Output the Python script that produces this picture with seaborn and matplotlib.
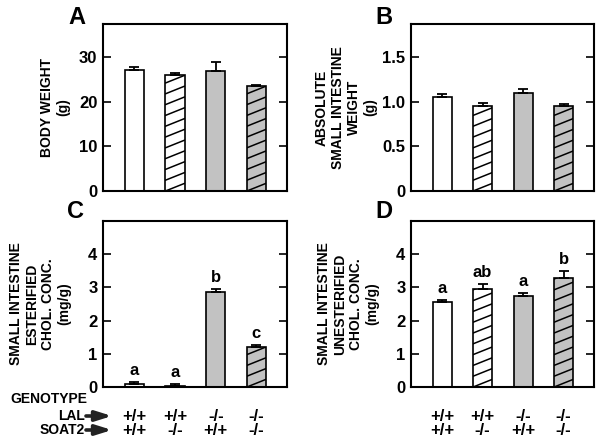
import numpy as np
import pandas as pd
import matplotlib.pyplot as plt
import matplotlib.transforms as mtransforms
from matplotlib.lines import Line2D
import seaborn as sns

# genotype of the four groups
lal = ['+/+', '+/+', '-/-', '-/-']
soat2 = ['+/+', '-/-', '+/+', '-/-']
groups = [f'LAL {a} / SOAT2 {b}' for a, b in zip(lal, soat2)]

# panel values (mean, SEM)
body_weight = [27.2, 26.0, 26.9, 23.5]
body_weight_sem = [0.7, 0.6, 2.0, 0.4]
si_weight = [1.05, 0.95, 1.10, 0.95]
si_weight_sem = [0.04, 0.04, 0.04, 0.03]
esterified = [0.08, 0.03, 2.86, 1.19]
esterified_sem = [0.07, 0.06, 0.09, 0.08]
unesterified = [2.56, 2.95, 2.75, 3.29]
unesterified_sem = [0.06, 0.15, 0.08, 0.19]
esterified_letters = ['a', 'a', 'b', 'c']
unesterified_letters = ['a', 'ab', 'a', 'b']

fills = ['white', 'white', '#c2c2c2', '#c2c2c2']
hatched = [False, True, False, True]

sns.set_theme(style='white')
plt.rcParams['font.family'] = ['Liberation Sans', 'DejaVu Sans']
plt.rcParams['font.weight'] = 'bold'
plt.rcParams['text.color'] = 'black'
plt.rcParams['axes.labelcolor'] = 'black'
plt.rcParams['xtick.color'] = 'black'
plt.rcParams['ytick.color'] = 'black'

W, H = 603, 445
fig = plt.figure(figsize=(W / 100, H / 100), dpi=100)


def px_axes(left, top, right, bottom):
    return fig.add_axes([left / W, 1 - bottom / H, (right - left) / W, (bottom - top) / H])


def add_hatch(ax, patch, spacing=10.8, slope=0.4):
    # shallow diagonal lines, clipped to the bar
    (x0, y0), (x1, y1) = ax.transData.transform(
        [(patch.get_x(), patch.get_y()),
         (patch.get_x() + patch.get_width(), patch.get_y() + patch.get_height())])
    w, h = x1 - x0, y1 - y0
    k0 = -int(np.ceil(slope * w / spacing)) - 1
    k1 = int(np.ceil(h / spacing)) + 1
    for k in range(k0, k1):
        ys = [y0 + k * spacing, y0 + k * spacing + slope * w]
        ln = Line2D([x0, x1], ys, transform=mtransforms.IdentityTransform(),
                    color='black', lw=1.1, zorder=patch.get_zorder() + 0.1)
        ln.set_clip_path(patch)
        fig.add_artist(ln)


def draw_panel(ax, values, sem, ymax, yticks, yticklabels, ylabel, label_x, letters=None):
    df = pd.DataFrame({'group': groups, 'value': values})
    sns.barplot(data=df, x='group', y='value', ax=ax, color='white', saturation=1,
                edgecolor='black', linewidth=1.2, width=0.47, errorbar=None)
    x = np.arange(len(values))
    ax.errorbar(x, values, yerr=[np.zeros(len(sem)), sem], fmt='none', ecolor='black',
                elinewidth=1.3, capsize=3.5, capthick=1.3)
    if letters is not None:
        for xi, v, e, t in zip(x, values, sem, letters):
            ax.annotate(t, (xi, v + e), xytext=(0, 3), textcoords='offset points',
                        ha='center', va='bottom', fontsize=12, fontweight='bold')
    ax.set_xlim(-0.77, 3.75)
    ax.set_ylim(0, ymax)
    ax.set_yticks(yticks)
    ax.set_yticklabels(yticklabels, fontsize=12, fontweight='bold')
    ax.set_xticks([])
    ax.set_xlabel('')
    ax.set_ylabel('')
    ax.tick_params(axis='y', direction='in', length=6, width=1.2, left=True, right=True,
                   labelleft=True, labelright=False, pad=4, colors='black')
    for s in ax.spines.values():
        s.set_linewidth(1.5)
        s.set_color('black')
    ax.text(label_x, 0.5, ylabel, transform=ax.transAxes, rotation=90, ha='center',
            va='center', multialignment='center', fontsize=10, fontweight='bold',
            linespacing=1.2)
    for patch, fc, hh in zip(ax.patches, fills, hatched):
        patch.set_facecolor(fc)
        if hh:
            add_hatch(ax, patch)


ax_a = px_axes(103, 24, 287, 191)
ax_b = px_axes(411, 24, 594, 191)
ax_c = px_axes(103, 221, 287, 387)
ax_d = px_axes(411, 221, 594, 387)

draw_panel(ax_a, body_weight, body_weight_sem, 37.5, [0, 10, 20, 30],
           ['0', '10', '20', '30'], 'BODY WEIGHT\n(g)', -0.261)
draw_panel(ax_b, si_weight, si_weight_sem, 1.875, [0, 0.5, 1.0, 1.5],
           ['0', '0.5', '1.0', '1.5'], 'ABSOLUTE\nSMALL INTESTINE\nWEIGHT\n(g)', -0.355)
draw_panel(ax_c, esterified, esterified_sem, 5, [0, 1, 2, 3, 4],
           ['0', '1', '2', '3', '4'],
           'SMALL INTESTINE\nESTERIFIED\nCHOL. CONC.\n(mg/g)', -0.342, esterified_letters)
draw_panel(ax_d, unesterified, unesterified_sem, 5, [0, 1, 2, 3, 4],
           ['0', '1', '2', '3', '4'],
           'SMALL INTESTINE\nUNESTERIFIED\nCHOL. CONC.\n(mg/g)', -0.344, unesterified_letters)

# panel letters
for t, (px, py) in zip('ABCD', [(76.5, 17.5), (383.5, 17.5), (76, 212), (384, 212)]):
    fig.text(px / W, 1 - py / H, t, ha='center', va='center', fontsize=17, fontweight='bold')

# genotype rows under C and D
for ax in (ax_c, ax_d):
    trans = mtransforms.blended_transform_factory(ax.transData, ax.transAxes)
    for i, (a, b) in enumerate(zip(lal, soat2)):
        ax.text(i, -0.175, a, transform=trans, ha='center', va='center',
                fontsize=12, fontweight='bold', clip_on=False)
        ax.text(i, -0.262, b, transform=trans, ha='center', va='center',
                fontsize=12, fontweight='bold', clip_on=False)

fig.text(10 / W, 1 - 399 / H, 'GENOTYPE', ha='left', va='center', fontsize=10, fontweight='bold')
for name, py in [('LAL', 416), ('SOAT2', 430)]:
    fig.text(85 / W, 1 - py / H, name, ha='right', va='center', fontsize=10, fontweight='bold')
    fig.add_artist(plt.Annotation('', xy=(112 / W, 1 - py / H), xytext=(86 / W, 1 - py / H),
                                  xycoords='figure fraction', textcoords='figure fraction',
                                  arrowprops=dict(arrowstyle='-|>,head_length=0.8,head_width=0.25',
                                                  lw=2.6, color='#222222', shrinkA=0, shrinkB=0)))

fig.savefig('out.png', dpi=100)
